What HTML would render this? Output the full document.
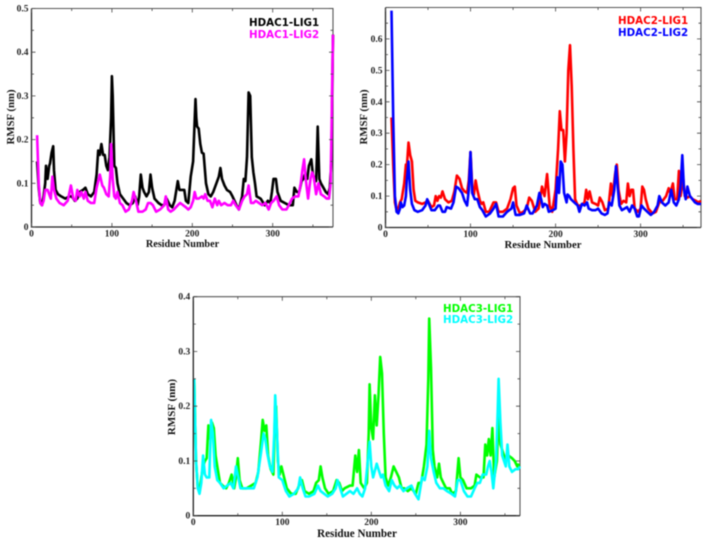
<!DOCTYPE html>
<html>
<head>
<meta charset="utf-8">
<title>HDAC RMSF charts</title>
<style>
html,body{margin:0;padding:0;background:#fff;width:708px;height:543px;overflow:hidden}
svg{display:block;filter:blur(0.4px)}
.tick{font:bold 9.5px "Liberation Serif",serif;fill:#222}
.title{font-weight:bold;font-family:"Liberation Serif",serif;fill:#111}
.legend{font:bold 10.3px "DejaVu Sans",sans-serif}
</style>
</head>
<body>
<svg id="figure" xmlns="http://www.w3.org/2000/svg" width="708" height="543" viewBox="0 0 708 543"></svg>
<script>
// HDAC1
const hdac1Lig1Residues = [7,9,11,13,15,17,18,20,22,23,25,27,28,30,33,37,42,47,50,54,57,60,64,67,70,74,78,81,83,85,87,89,91,93,95,97,99,100,101,103,105,107,110,114,118,122,126,129,132,134,136,138,140,143,146,148,150,153,158,162,165,168,172,175,178,182,184,187,190,192,195,198,201,204,205,206,208,210,212,214,217,220,223,226,230,233,235,237,240,243,247,250,255,258,262,264,266,268,270,272,274,276,278,280,285,290,294,297,299,301,304,306,310,315,320,325,327,330,333,336,338,340,343,345,348,350,352,354,355,356,358,360,363,366,369,371,373,374,375];
const hdac1Lig1Rmsf = [.15,.09,.055,.05,.07,.10,.14,.11,.14,.145,.17,.185,.13,.085,.075,.07,.065,.07,.07,.06,.065,.08,.085,.09,.075,.07,.08,.12,.175,.165,.19,.165,.165,.14,.13,.16,.25,.345,.30,.14,.135,.10,.075,.065,.055,.05,.055,.07,.05,.07,.12,.09,.08,.07,.08,.12,.09,.065,.055,.05,.05,.065,.05,.045,.06,.105,.085,.085,.085,.06,.055,.115,.15,.293,.25,.23,.225,.19,.17,.168,.10,.075,.07,.08,.10,.115,.135,.11,.095,.085,.08,.07,.05,.04,.07,.11,.105,.16,.308,.30,.16,.125,.10,.07,.065,.05,.06,.055,.08,.11,.11,.08,.06,.055,.05,.05,.09,.08,.08,.105,.11,.12,.11,.14,.155,.12,.11,.105,.16,.23,.11,.10,.09,.08,.075,.09,.15,.30,.44];
const hdac1Lig2Residues = [7,9,11,13,15,17,20,23,24,26,28,31,35,40,45,49,52,55,57,60,62,65,67,70,74,78,81,83,85,88,90,93,96,98,99,101,103,105,107,110,113,117,121,125,127,130,133,138,142,145,148,151,155,160,165,167,170,173,177,182,185,192,195,198,201,203,205,208,212,214,216,219,222,225,228,231,233,236,240,244,248,251,254,258,262,265,268,270,273,276,279,283,287,291,295,298,301,305,308,312,317,320,324,328,332,335,337,339,341,344,347,349,351,354,357,360,364,367,370,372,373,374,375];
const hdac1Lig2Rmsf = [.21,.10,.055,.05,.06,.085,.085,.07,.065,.115,.085,.065,.055,.05,.06,.095,.065,.06,.085,.07,.08,.065,.08,.06,.055,.055,.09,.105,.12,.095,.09,.075,.07,.12,.19,.11,.07,.065,.08,.055,.05,.035,.04,.06,.08,.06,.035,.035,.04,.055,.055,.05,.035,.04,.05,.07,.04,.035,.04,.05,.055,.045,.04,.045,.06,.08,.065,.065,.07,.065,.075,.06,.06,.045,.065,.05,.06,.05,.055,.05,.05,.06,.05,.04,.06,.07,.075,.095,.055,.055,.06,.055,.05,.055,.04,.055,.06,.07,.05,.04,.04,.05,.065,.07,.07,.10,.13,.155,.11,.065,.11,.125,.115,.075,.10,.075,.07,.065,.065,.10,.20,.33,.44];
const hdac1XTicks = [0,100,200,300];
const hdac1XMinor = [50,150,250,350];
const hdac1YTicks = [0,0.1,0.2,0.3,0.4,0.5];
const hdac1YMinor = [0.05,0.15,0.25,0.35,0.45];
const hdac1YLabels = ["0","0.1","0.2","0.3","0.4","0.5"];
const hdac1Legend = ["HDAC1-LIG1","HDAC1-LIG2"];

// HDAC2
const hdac2Lig1Residues = [7,9,11,13,15,17,19,22,24,25,27,29,31,33,35,38,43,47,50,54,57,59,61,63,65,67,70,74,78,81,84,87,90,93,96,98,100,102,104,106,108,111,113,115,118,122,127,130,133,138,143,147,150,152,154,158,162,166,169,172,176,180,184,187,190,193,196,200,203,205,207,209,211,213,215,217,219,221,223,226,230,234,236,238,240,243,247,250,252,255,258,262,265,267,270,272,274,277,280,283,285,287,289,291,293,297,300,302,304,306,309,314,318,322,326,330,333,335,338,340,343,345,347,350,352,355,358,361,365,368,371];
const hdac2Lig1Rmsf = [.35,.20,.08,.055,.06,.08,.09,.14,.20,.19,.27,.23,.21,.12,.085,.08,.075,.08,.085,.065,.07,.10,.085,.10,.095,.115,.09,.08,.085,.115,.165,.155,.125,.115,.11,.15,.24,.13,.105,.15,.12,.085,.075,.08,.05,.05,.08,.08,.05,.05,.06,.09,.125,.13,.07,.045,.05,.06,.095,.085,.05,.06,.13,.10,.17,.07,.05,.12,.25,.37,.31,.31,.21,.30,.50,.58,.45,.25,.09,.07,.07,.08,.12,.09,.115,.08,.075,.07,.095,.08,.055,.06,.14,.10,.17,.20,.12,.075,.085,.08,.14,.10,.12,.12,.06,.05,.06,.13,.12,.09,.06,.045,.05,.08,.085,.10,.125,.11,.14,.09,.09,.18,.10,.16,.10,.095,.10,.09,.085,.08,.085];
const hdac2Lig2Residues = [7,9,11,13,15,17,18,20,22,24,25,27,29,31,34,38,43,47,49,51,54,58,62,64,67,70,72,77,80,83,86,90,93,96,98,100,102,105,108,111,114,118,123,127,130,133,138,143,148,150,153,158,163,166,170,173,178,181,183,185,187,190,192,197,200,202,204,206,208,210,213,214,216,218,222,226,228,231,234,237,239,243,247,250,254,258,261,263,266,269,271,273,275,278,281,284,287,290,293,296,298,301,304,308,312,316,320,322,325,329,333,336,339,342,345,347,349,351,353,355,358,361,364,367,371];
const hdac2Lig2Rmsf = [.69,.35,.10,.05,.045,.06,.08,.065,.07,.10,.15,.21,.12,.075,.055,.05,.055,.07,.09,.075,.055,.055,.07,.07,.05,.05,.065,.06,.08,.13,.125,.11,.085,.07,.12,.24,.11,.09,.09,.065,.055,.035,.045,.06,.075,.035,.035,.05,.06,.08,.04,.04,.045,.07,.045,.045,.07,.11,.09,.065,.075,.07,.05,.055,.06,.16,.11,.21,.20,.11,.08,.105,.10,.09,.08,.07,.05,.075,.07,.08,.06,.055,.055,.06,.045,.04,.045,.08,.07,.12,.195,.13,.07,.055,.06,.065,.05,.07,.06,.035,.035,.07,.06,.05,.04,.05,.07,.10,.08,.07,.08,.12,.08,.07,.09,.13,.23,.12,.09,.13,.10,.09,.08,.075,.075];
const hdac2XTicks = [0,100,200,300];
const hdac2XMinor = [50,150,250,350];
const hdac2YTicks = [0,0.1,0.2,0.3,0.4,0.5,0.6,0.7];
const hdac2YMinor = [0.05,0.15,0.25,0.35,0.45,0.55,0.65];
const hdac2YLabels = ["0","0.1","0.2","0.3","0.4","0.5","0.6",""];
const hdac2Legend = ["HDAC2-LIG1","HDAC2-LIG2"];

// HDAC3
const hdac3Lig1Residues = [1,3,5,7,9,11,13,15,17,19,21,23,25,27,30,33,37,40,43,46,48,50,52,55,60,65,70,73,76,78,80,82,84,87,90,92,93,95,97,99,102,105,110,115,120,122,125,130,135,138,141,143,145,148,152,157,161,164,167,170,176,179,182,184,186,188,192,195,197,198,200,202,204,206,208,210,212,214,216,219,222,225,228,231,234,237,241,245,250,253,256,259,262,264,265,267,269,271,274,276,278,281,284,288,291,295,298,300,303,307,312,316,318,322,326,328,330,332,334,336,338,341,343,345,348,351,354,358,361,364,366];
const hdac3Lig1Rmsf = [.25,.10,.05,.045,.07,.09,.10,.105,.165,.14,.17,.16,.11,.09,.06,.055,.05,.06,.075,.05,.07,.105,.065,.05,.05,.055,.06,.08,.135,.175,.155,.165,.11,.085,.075,.20,.20,.10,.075,.09,.07,.05,.04,.04,.06,.065,.045,.04,.045,.06,.065,.09,.07,.05,.04,.045,.065,.06,.045,.05,.055,.055,.11,.08,.12,.06,.05,.06,.15,.24,.16,.14,.22,.165,.22,.29,.26,.15,.07,.055,.07,.09,.08,.07,.05,.05,.045,.05,.04,.06,.06,.09,.13,.25,.36,.27,.12,.09,.07,.095,.07,.06,.05,.05,.04,.045,.105,.07,.065,.05,.05,.055,.075,.07,.07,.13,.11,.14,.11,.16,.07,.10,.19,.13,.115,.10,.11,.105,.10,.09,.095];
const hdac3Lig2Residues = [1,3,5,7,9,11,13,15,18,20,22,24,27,30,34,38,42,45,48,50,53,58,63,68,72,76,79,81,83,86,89,91,92,94,96,100,104,108,113,118,120,123,126,130,136,140,143,147,151,156,160,162,165,168,172,176,180,184,187,190,193,196,198,200,202,206,209,211,213,216,220,223,226,229,232,236,240,245,249,253,257,260,263,265,267,270,273,277,281,285,290,294,297,300,304,308,312,316,319,322,325,329,331,333,335,337,340,342,343,345,347,351,353,355,358,362,365,367];
const hdac3Lig2Rmsf = [.25,.10,.05,.04,.06,.11,.075,.07,.07,.175,.15,.09,.065,.06,.05,.055,.06,.05,.09,.075,.05,.05,.05,.05,.07,.115,.15,.14,.115,.09,.08,.15,.22,.15,.07,.065,.045,.035,.04,.05,.07,.05,.035,.035,.04,.055,.045,.04,.035,.04,.05,.065,.05,.035,.04,.045,.04,.05,.04,.035,.05,.10,.135,.09,.07,.095,.08,.07,.075,.055,.045,.065,.055,.05,.055,.045,.05,.055,.04,.03,.07,.065,.09,.155,.105,.08,.06,.05,.05,.045,.04,.035,.065,.065,.045,.035,.035,.05,.06,.06,.075,.075,.09,.10,.08,.05,.10,.19,.25,.17,.11,.09,.13,.09,.08,.085,.085,.09];
const hdac3XTicks = [0,100,200,300];
const hdac3XMinor = [50,150,250,350];
const hdac3YTicks = [0,0.1,0.2,0.3,0.4];
const hdac3YMinor = [0.05,0.15,0.25,0.35];
const hdac3YLabels = ["0","0.1","0.2","0.3","0.4"];
const hdac3Legend = ["HDAC3-LIG1","HDAC3-LIG2"];

const NS = "http://www.w3.org/2000/svg";
const figure = document.getElementById("figure");

function make(parent, tag, attrs, text) {
  const el = document.createElementNS(NS, tag);
  for (const k in attrs) el.setAttribute(k, attrs[k]);
  if (text !== undefined) el.textContent = text;
  parent.appendChild(el);
  return el;
}

function drawChart(c) {
  const g = make(figure, "g", {});
  
  
  const sx = r => c.left + (r / c.xMax) * (c.right - c.left);
  const sy = v => c.bottom - (v / c.yMax) * (c.bottom - c.top);

  const frame = make(g, "path", {
    d: `M${c.left} ${c.top}H${c.right}V${c.bottom}`,
    fill: "none", stroke: "#555", "stroke-width": 1.1
  });
  
  

  c.series.forEach(s => {
    const pts = s.x.map((r, i) => sx(r).toFixed(1) + "," + sy(s.y[i]).toFixed(1)).join(" ");
    const line = make(g, "polyline", {
      points: pts, fill: "none", stroke: s.color, "stroke-width": s.width,
      "stroke-linejoin": "round"
    });
    
    
  });

  const axes = make(g, "path", {
    d: `M${c.left} ${c.top}V${c.bottom}H${c.right}`,
    fill: "none", stroke: "#222", "stroke-width": 1.3
  });
  
  

  let d = "";
  c.xTicks.forEach(t => {
    d += `M${sx(t).toFixed(1)} ${c.bottom}v-4M${sx(t).toFixed(1)} ${c.top}v4`;
  });
  c.xMinor.filter(t => t <= c.xMax).forEach(t => {
    d += `M${sx(t).toFixed(1)} ${c.bottom}v-2.5M${sx(t).toFixed(1)} ${c.top}v2.5`;
  });
  c.yTicks.forEach(t => {
    d += `M${c.left} ${sy(t).toFixed(1)}h4M${c.right} ${sy(t).toFixed(1)}h-4`;
  });
  c.yMinor.forEach(t => {
    d += `M${c.left} ${sy(t).toFixed(1)}h2.5M${c.right} ${sy(t).toFixed(1)}h-2.5`;
  });
  const ticks = make(g, "path", { d: d, fill: "none", stroke: "#444", "stroke-width": 0.8 });
  
  

  c.xTicks.forEach(t => {
    const lab = make(g, "text", { x: sx(t), y: c.bottom + 9.5, "text-anchor": "middle", class: "tick" }, String(t));
    
    
  });
  c.yTicks.forEach((t, i) => {
    if (!c.yLabels[i]) return;
    const lab = make(g, "text", { x: c.left - 3, y: sy(t) + 3, "text-anchor": "end", class: "tick" }, c.yLabels[i]);
    
    
  });

  const xt = make(g, "text", { x: c.xTitleX, y: c.xTitleY, "text-anchor": "middle", class: "title", "font-size": c.xTitleSize }, "Residue Number");
  
  

  const yt = make(g, "text", {
    x: 0, y: 0, "text-anchor": "middle", class: "title", "font-size": c.yTitleSize,
    transform: `translate(${c.yTitleX} ${c.yTitleY}) rotate(-90)`
  }, "RMSF (nm)");
  
  

  c.series.forEach((s, i) => {
    const lg = make(g, "text", { x: c.legendX, y: c.legendY[i], fill: s.color, class: "legend" }, c.legend[i]);
    
    
  });
}

drawChart({
  id: "hdac1", left: 31.5, right: 333, top: 8.5, bottom: 227, xMax: 375, yMax: 0.5,
  xTicks: hdac1XTicks, xMinor: hdac1XMinor, yTicks: hdac1YTicks, yMinor: hdac1YMinor, yLabels: hdac1YLabels,
  xTitleX: 182.5, xTitleY: 247, xTitleSize: 10.2, yTitleX: 14, yTitleY: 117, yTitleSize: 10.8,
  legend: hdac1Legend, legendX: 249, legendY: [26, 38],
  series: [
    { name: "hdac1-lig1", x: hdac1Lig1Residues, y: hdac1Lig1Rmsf, color: "#000000", width: 2.6 },
    { name: "hdac1-lig2", x: hdac1Lig2Residues, y: hdac1Lig2Rmsf, color: "#ff00ff", width: 2.6 }
  ]
});
drawChart({
  id: "hdac2", left: 385.5, right: 701, top: 7.5, bottom: 227.5, xMax: 371, yMax: 0.7,
  xTicks: hdac2XTicks, xMinor: hdac2XMinor, yTicks: hdac2YTicks, yMinor: hdac2YMinor, yLabels: hdac2YLabels,
  xTitleX: 543, xTitleY: 248, xTitleSize: 10.7, yTitleX: 367, yTitleY: 117, yTitleSize: 10.8,
  legend: hdac2Legend, legendX: 618, legendY: [24, 36],
  series: [
    { name: "hdac2-lig1", x: hdac2Lig1Residues, y: hdac2Lig1Rmsf, color: "#ff0000", width: 2.6 },
    { name: "hdac2-lig2", x: hdac2Lig2Residues, y: hdac2Lig2Rmsf, color: "#0000ff", width: 2.6 }
  ]
});
drawChart({
  id: "hdac3", left: 193.3, right: 520, top: 296.7, bottom: 515.7, xMax: 367, yMax: 0.4,
  xTicks: hdac3XTicks, xMinor: hdac3XMinor, yTicks: hdac3YTicks, yMinor: hdac3YMinor, yLabels: hdac3YLabels,
  xTitleX: 357, xTitleY: 537, xTitleSize: 11.1, yTitleX: 175, yTitleY: 407, yTitleSize: 11,
  legend: hdac3Legend, legendX: 443, legendY: [312, 323],
  series: [
    { name: "hdac3-lig1", x: hdac3Lig1Residues, y: hdac3Lig1Rmsf, color: "#00ff00", width: 2.6 },
    { name: "hdac3-lig2", x: hdac3Lig2Residues, y: hdac3Lig2Rmsf, color: "#00ffff", width: 2.6 }
  ]
});
</script>
</body>
</html>
